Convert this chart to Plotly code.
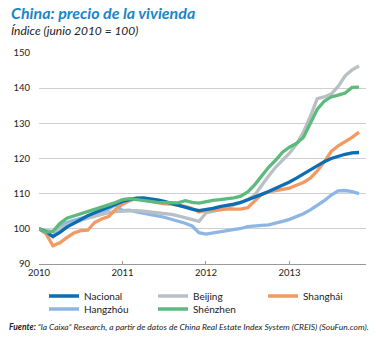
import plotly.graph_objects as go

months = list(range(47))
tick_vals = [0, 12, 24, 36]
tick_text = ["2010", "2011", "2012", "2013"]

nacional = [100, 99.2, 97.8, 99, 100.5, 101.6, 102.7, 103.7, 104.6, 105.4, 106.3, 107.1, 107.8, 108.3, 108.7, 108.8,
            108.6, 108.2, 107.8, 107.2, 106.7, 106.1, 105.6, 105.2, 105.4, 105.8, 106.3, 106.6, 107, 107.5, 108.2,
            109, 109.8, 110.6, 111.5, 112.3, 113.3, 114.4, 115.6, 116.8, 118, 119.1, 120, 120.7, 121.2, 121.6, 121.7]
beijing = [100, 99.6, 99.2, 100.2, 101, 101.7, 102.4, 103, 103.6, 104.2, 104.6, 104.9, 105, 105.1, 105.2, 105,
           104.8, 104.6, 104.4, 104.1, 103.7, 103.1, 102.5, 102.1, 104.5, 104.9, 105.3, 105.8, 106.8, 107.6, 108.3,
           109.6, 112.5, 115, 117.5, 119.5, 121.5, 124, 127.5, 132, 137, 137.5, 138.3, 140.5, 143.5, 145.2, 146.3]
shanghai = [100, 98.6, 95.2, 96, 97.5, 98.8, 99.5, 99.6, 101.8, 102.8, 103.5, 105.5, 107, 108, 108.6, 108.2,
            107.8, 107.3, 107.1, 107, 106.8, 106.4, 105.8, 104.8, 105.2, 105.4, 105.5, 105.6, 105.6, 105.6, 106,
            108, 109.8, 110.5, 110.8, 111.1, 111.6, 112.4, 113.2, 114.4, 116.5, 119, 122, 123.6, 124.8, 126, 127.5]
hangzhou = [100, 98.9, 97.8, 100.6, 101.8, 102.4, 102.9, 103.4, 103.9, 104.6, 105.6, 106.8, 105.2, 105.3, 104.8, 104.5,
            104.2, 103.7, 103.3, 102.8, 102.3, 101.6, 100.8, 98.9, 98.5, 98.8, 99.1, 99.4, 99.7, 100.1, 100.6,
            100.9, 101, 101.1, 101.5, 102.1, 102.7, 103.4, 104.3, 105.4, 106.7, 108, 109.6, 110.8, 110.9, 110.6, 110]
shenzhen = [100, 99, 99.3, 101.5, 103, 103.6, 104.2, 105, 105.5, 106, 106.8, 107.5, 108.3, 108.6, 108.4, 108.2,
            107.8, 107.5, 107.4, 107.3, 107.4, 108, 107.5, 107.3, 107.8, 108.1, 108.3, 108.5, 108.8, 109.3, 110.5,
            112.5, 115, 117.5, 119.5, 121.8, 123.2, 124.3, 126, 130, 134, 136.3, 137.5, 138, 138.6, 140.2, 140.3]

FONT = "Lato, Roboto, sans-serif"
W, H = 376, 338
L, R, T, B = 39, 10, 53, 74

# name, values, colour, legend id, legend position (left px, centre px)
series = [
    ("Hangzhóu", hangzhou, "#8db6e4", "legend4", (44, 309)),
    ("Beijing", beijing, "#b9c0c5", "legend2", (153, 296)),
    ("Shanghái", shanghai, "#f39a62", "legend3", (263, 296)),
    ("Nacional", nacional, "#0b6db3", "legend", (44, 296)),
    ("Shénzhen", shenzhen, "#5db97c", "legend5", (153, 309)),
]

fig = go.Figure()
legends = {}
for name, vals, col, leg, (lx, ly) in series:
    fig.add_trace(go.Scatter(x=months, y=vals, mode="lines", name=name,
                             line=dict(color=col, width=3.3), legend=leg))
    legends[leg] = dict(x=lx / W, y=1 - ly / H, orientation="h", xref="container", yref="container",
                        xanchor="left", yanchor="middle", bgcolor="rgba(0,0,0,0)",
                        font=dict(family=FONT, size=10, color="#222"), itemwidth=30)

fig.update_layout(
    width=W, height=H, margin=dict(l=L, r=R, t=T, b=B, autoexpand=False),
    paper_bgcolor="white", plot_bgcolor="white",
    font=dict(family=FONT, size=10, color="#333"),
    xaxis=dict(range=[0, 47], tickvals=tick_vals, ticktext=tick_text, showgrid=False, zeroline=False,
               showline=True, linecolor="#999", linewidth=1, ticks="inside", ticklen=3, tickcolor="#999",
               tickfont=dict(family=FONT, size=9.5, color="#222")),
    yaxis=dict(range=[90, 150], tickvals=[90, 100, 110, 120, 130, 140, 150], showgrid=True, gridcolor="#d0d0d0",
               gridwidth=1, zeroline=False, showline=False, ticks="", ticklabelstandoff=8,
               tickfont=dict(family=FONT, size=9.5, color="#222")),
    showlegend=True,
    **legends,
)

def px_x(p):
    return (p - L) / (W - L - R)

def px_y(p):
    return (H - B - p) / (H - T - B)

fig.add_annotation(text="<b><i>China: precio de la vivienda</i></b>", xref="paper", yref="paper",
                   x=px_x(9), y=px_y(12.5), xanchor="left", yanchor="middle", showarrow=False,
                   font=dict(family=FONT, size=16, color="#1a86c8"))
fig.add_annotation(text="<i>Índice (junio 2010 = 100)</i>", xref="paper", yref="paper",
                   x=px_x(9), y=px_y(30), xanchor="left", yanchor="middle", showarrow=False,
                   font=dict(family=FONT, size=12, color="#222"))
fig.add_annotation(text="<b><i>Fuente:</i></b><i> “la Caixa” Research, a partir de datos de China Real Estate Index System (CREIS) (SouFun.com).</i>",
                   xref="paper", yref="paper", x=px_x(7), y=px_y(327), xanchor="left", yanchor="middle",
                   showarrow=False, font=dict(family=FONT, size=8.5, color="#222"))

fig.write_html("out.html")
